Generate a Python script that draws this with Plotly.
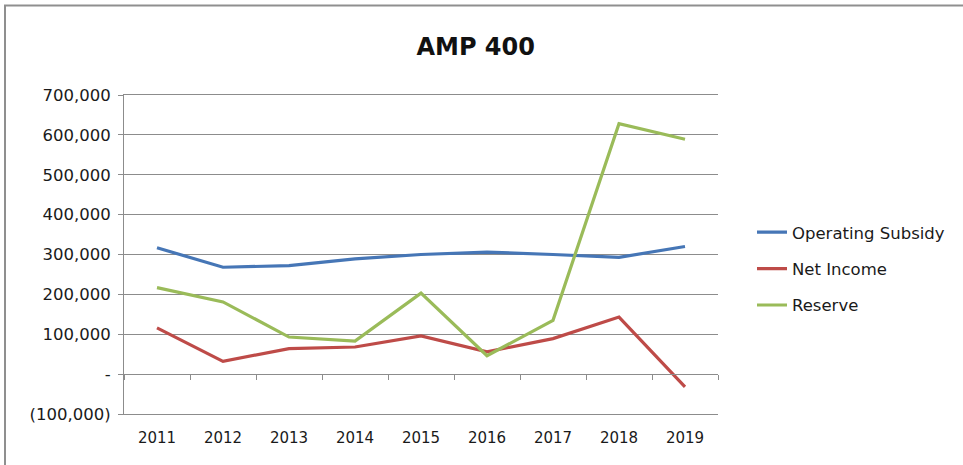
import plotly.graph_objects as go

# Yearly figures for AMP 400
years = ["2011", "2012", "2013", "2014", "2015", "2016", "2017", "2018", "2019"]
operating_subsidy = [317000, 268000, 272000, 289000, 300000, 306000, 300000, 293000, 320000]
net_income = [116000, 32000, 64000, 68000, 96000, 56000, 89000, 143000, -32000]
reserve = [217000, 181000, 93000, 83000, 203000, 46000, 135000, 628000, 589000]

y_ticks = [-100000, 0, 100000, 200000, 300000, 400000, 500000, 600000, 700000]
y_tick_text = ["(100,000)", "-", "100,000", "200,000", "300,000",
               "400,000", "500,000", "600,000", "700,000"]

series = [
    ("Operating Subsidy", operating_subsidy, "#4676B6"),
    ("Net Income", net_income, "#BE4B48"),
    ("Reserve", reserve, "#9ABB59"),
]

FONT = "DejaVu Sans"
GRID = "#8c8c8c"

x_idx = list(range(len(years)))

fig = go.Figure()
for name, vals, color in series:
    fig.add_trace(go.Scatter(
        x=x_idx, y=vals, name=name, mode="lines",
        line=dict(color=color, width=3.2),
        legendgroup=name,
    ))

# invisible trace that carries the category axis drawn across the zero line
fig.add_trace(go.Scatter(
    x=[x_idx[0], x_idx[-1]], y=[0, 0], xaxis="x2", mode="lines",
    line=dict(width=0), showlegend=False, hoverinfo="skip",
))

fig.update_layout(
    width=963, height=465,
    margin=dict(l=124, r=245, t=95, b=51),
    paper_bgcolor="white", plot_bgcolor="white",
    font=dict(family=FONT, size=15, color="#1a1a1a"),
    title=dict(text="<b>AMP 400</b>", x=0.494, xref="container", xanchor="center",
               y=1 - 47 / 465, yanchor="middle",
               font=dict(family=FONT, size=24, color="#111111")),
    xaxis=dict(
        range=[-0.5, len(years) - 0.5],
        tickvals=x_idx, ticktext=years,
        showgrid=False, zeroline=False,
        showline=True, linecolor=GRID, linewidth=1, mirror=True,
        ticks="", tickfont=dict(size=15), ticklabelstandoff=10,
    ),
    xaxis2=dict(
        overlaying="x", anchor="free", position=40 / 319,
        range=[-0.5, len(years) - 0.5],
        tickvals=[i + 0.5 for i in range(-1, len(years))],
        showticklabels=False, ticks="outside", ticklen=5,
        tickcolor=GRID, showline=True, linecolor=GRID, linewidth=1,
        showgrid=False, zeroline=False,
    ),
    yaxis=dict(
        range=[-100000, 700000],
        tickvals=y_ticks, ticktext=y_tick_text,
        showgrid=True, gridcolor=GRID, gridwidth=1,
        zeroline=False,
        showline=True, linecolor=GRID, linewidth=1,
        ticks="outside", ticklen=5, tickcolor=GRID,
        tickfont=dict(size=16.5), ticklabelstandoff=4,
    ),
    legend=dict(
        x=(752 - 124) / 594, xanchor="left", y=0.455, yanchor="middle",
        font=dict(family=FONT, size=16.5),
        tracegroupgap=12, bgcolor="rgba(0,0,0,0)",
    ),
    shapes=[dict(type="rect", xref="paper", yref="paper",
                 x0=-119 / 594, x1=1 + 260 / 594,
                 y0=-70 / 319, y1=1 + 89.5 / 319,
                 line=dict(color="#8f8f8f", width=2))],
    showlegend=True,
)

fig.write_html("out.html")
